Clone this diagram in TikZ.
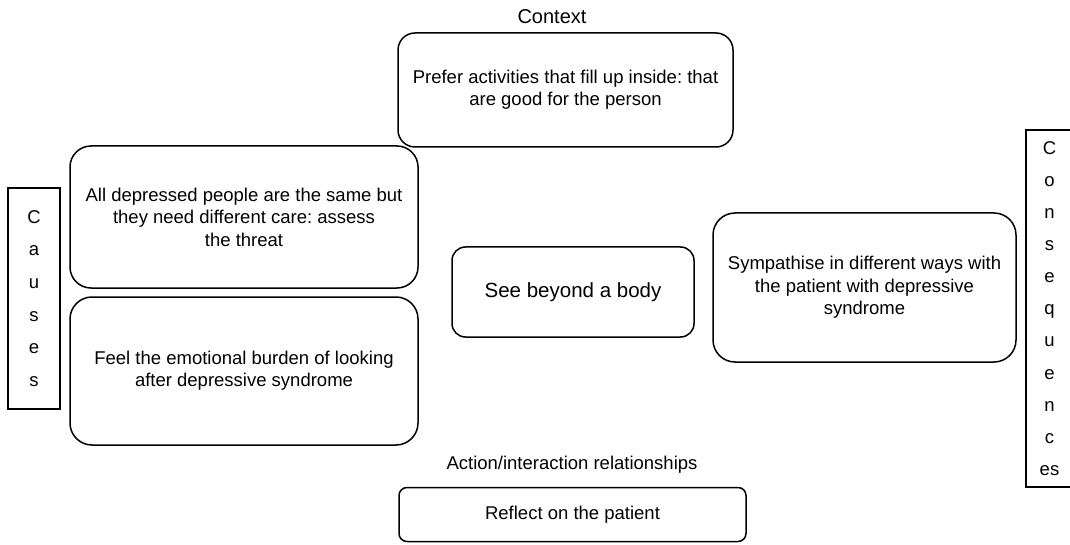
\documentclass[tikz,border=0pt]{standalone}
\usepackage{fontspec}
\setmainfont{Liberation Sans}
\frenchspacing
\begin{document}
\begin{tikzpicture}[x=1pt,y=-1pt,
  txt/.style={font=\fontsize{18.5}{22.4}\selectfont, align=center, inner sep=0pt},
  rbox/.style={txt, draw, line width=1.5pt, rounded corners=#1},
  sbox/.style={txt, draw, line width=1.5pt}]
\useasboundingbox (0,0) rectangle (1070,545);

% side columns (the right one runs past the page edge)
\node[sbox, minimum width=52pt, minimum height=221pt,
      font=\fontsize{18.5}{32.6}\selectfont] (causes) at (34,298.5)
      {C\\a\\u\\s\\e\\s};
\node[sbox, minimum width=47pt, minimum height=357pt,
      font=\fontsize{18.5}{32.1}\selectfont] (cons) at (1049.5,308.5)
      {C\\o\\n\\s\\e\\q\\u\\e\\n\\c\\es};

% causes
\node[rbox=21pt, minimum width=348pt, minimum height=142pt] (threat) at (244,217)
  {All depressed people are the same but\\they need different care: assess\\the threat};
\node[rbox=22pt, minimum width=348pt, minimum height=148pt] (burden) at (244,371)
  {Feel the emotional burden of looking\\after depressive syndrome};

% context
\node[txt, font=\fontsize{20}{24}\selectfont] (ctxlabel) at (552,17) {Context};
\node[rbox=17pt, minimum width=335pt, minimum height=114pt] (ctx) at (565.5,90)
  {Prefer activities that fill up inside: that\\are good for the person};

% phenomenon
\node[rbox=13.5pt, minimum width=242pt, minimum height=90pt,
      font=\fontsize{20.5}{24}\selectfont] (body) at (573,292) {See beyond a body};

% consequences
\node[rbox=22pt, minimum width=303pt, minimum height=149pt] (sympathy) at (864.5,287.5)
  {Sympathise in different ways with\\the patient with depressive\\syndrome};

% action/interaction
\node[txt] (actlabel) at (572,465) {Action/interaction relationships};
\node[rbox=8pt, minimum width=347pt, minimum height=54pt] (reflect) at (572.5,514.5)
  {Reflect on the patient};
\end{tikzpicture}
\end{document}
